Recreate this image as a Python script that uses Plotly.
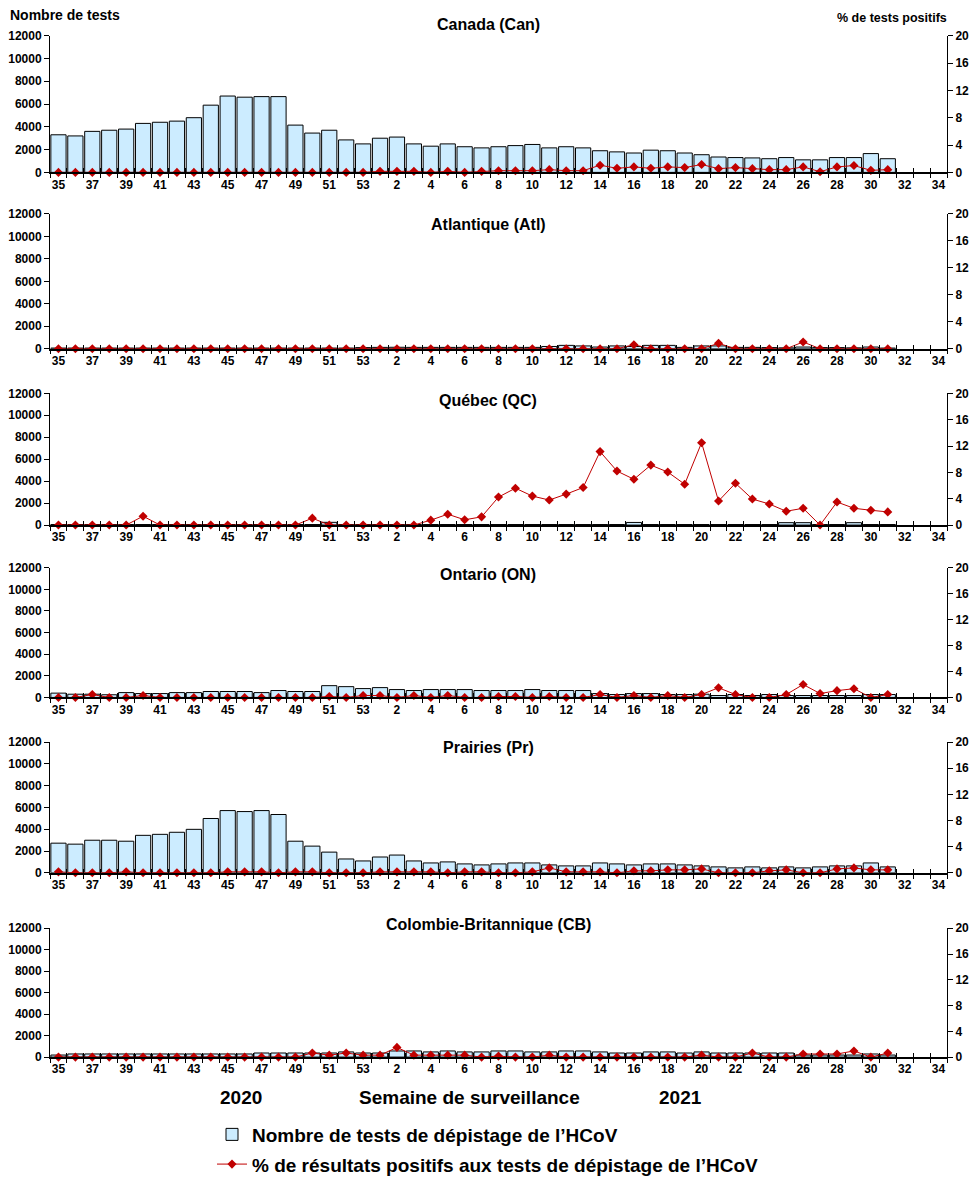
import plotly.graph_objects as go

# ---------------- data ----------------
weeks = [str(w) for w in range(35, 54)] + [str(w) for w in range(1, 35)]
week_labels = [w if i % 2 == 0 else "" for i, w in enumerate(weeks)]

can_tests = [3300, 3200, 3600, 3700, 3800, 4300, 4400, 4500, 4800, 5900, 6700, 6600, 6650, 6650, 4150, 3450, 3700, 2850, 2500,
             3000, 3100, 2500, 2300, 2500, 2250, 2150, 2250, 2350, 2450, 2150, 2250, 2150, 1900, 1800, 1700, 1950, 1900, 1700,
             1550, 1350, 1300, 1270, 1200, 1300, 1100, 1100, 1300, 1300, 1650, 1200]
can_pct = [0] * 19 + [0.15, 0.15, 0.15, 0, 0.15, 0, 0.15, 0.25, 0.25, 0.25, 0.4, 0.25, 0.25, 1.05, 0.6, 0.8, 0.6, 0.8, 0.7,
                      1.15, 0.55, 0.7, 0.55, 0.4, 0.4, 0.8, 0.1, 0.8, 1.0, 0.3, 0.4]

atl_tests = [60] * 18 + [100] + [120, 130, 120, 120, 120, 120, 120, 120, 120, 120, 200, 300, 250, 150, 250, 200, 300, 300, 120,
                                 250, 250, 120, 120, 100, 80, 150, 100, 100, 80, 150, 60]
atl_pct = [0] * 19 + [0, 0, 0, 0, 0, 0, 0, 0, 0, 0, 0, 0, 0, 0, 0, 0.6, 0, 0, 0, 0, 0.8, 0, 0, 0, 0, 1.0, 0, 0, 0, 0, 0]

qc_tests = [50] * 16 + [250, 50, 50] + [50] * 15 + [240] + [50] * 8 + [220, 220, 50, 50, 220, 50, 50]
qc_pct = [0, 0, 0, 0, 0, 1.35, 0, 0, 0, 0, 0, 0, 0, 0, 0, 1.05, 0, 0, 0,
          0, 0, 0, 0.75, 1.65, 0.8, 1.25, 4.25, 5.6, 4.4, 3.8, 4.7, 5.7, 11.15, 8.2, 6.95, 9.1, 8.05, 6.2, 12.5, 3.65,
          6.35, 3.95, 3.2, 2.1, 2.55, 0, 3.5, 2.55, 2.25, 2.0]

on_tests = [400, 300, 300, 250, 450, 360, 360, 450, 450, 550, 550, 550, 450, 640, 550, 550, 1090, 1000, 820,
            910, 730, 640, 730, 730, 730, 640, 640, 640, 730, 640, 640, 640, 360, 270, 360, 360, 270, 270, 300, 180,
            270, 180, 270, 180, 180, 180, 180, 180, 270, 270]
on_pct = [0, 0, 0.45, 0, 0, 0.3, 0, 0, 0, 0, 0, 0, 0, 0, 0, 0, 0.15, 0, 0.3,
          0.3, 0, 0.3, 0, 0.3, 0, 0, 0.15, 0.15, 0, 0.15, 0, 0, 0.45, 0, 0.3, 0, 0.3, 0, 0.45, 1.5,
          0.45, 0, 0, 0.45, 2.0, 0.6, 1.05, 1.35, 0, 0.45]

pr_tests = [2720, 2630, 2990, 2990, 2900, 3440, 3530, 3720, 3990, 4985, 5710, 5620, 5710, 5350, 2900, 2450, 1900, 1270, 1090,
            1450, 1630, 1090, 906, 1000, 816, 725, 816, 906, 906, 725, 635, 635, 906, 816, 725, 816, 816, 725, 635, 544,
            453, 544, 453, 544, 453, 544, 635, 635, 906, 544]
pr_pct = [0.15, 0, 0, 0, 0.15, 0, 0, 0, 0, 0, 0.15, 0.15, 0.15, 0, 0.15, 0.15, 0, 0, 0,
          0.15, 0.15, 0.15, 0.15, 0, 0.15, 0.15, 0, 0, 0.15, 0.75, 0.15, 0.15, 0.15, 0, 0.3, 0.3, 0.45, 0.45, 0.6, 0,
          0, 0, 0.3, 0.45, 0, 0, 0.6, 0.75, 0.45, 0.45]

bc_tests = [190] + [290] * 11 + [380] * 5 + [480, 380] + \
           [380, 570, 570, 480, 570, 480, 480, 570, 570, 480, 480, 570, 570, 480, 380, 380, 480, 480, 380, 480,
            380, 380, 380, 380, 380, 190, 190, 190, 190, 290, 190]
bc_pct = [0] * 15 + [0.63, 0.3, 0.63, 0.3] + \
         [0.3, 1.5, 0.3, 0.3, 0.3, 0.3, 0, 0.15, 0, 0, 0.3, 0, 0, 0, 0, 0, 0, 0, 0, 0.3,
          0, 0, 0.63, 0, 0, 0.48, 0.48, 0.48, 0.95, 0, 0.63]

panels = [
    ("Canada (Can)", can_tests, can_pct),
    ("Atlantique (Atl)", atl_tests, atl_pct),
    ("Québec (QC)", qc_tests, qc_pct),
    ("Ontario (ON)", on_tests, on_pct),
    ("Prairies (Pr)", pr_tests, pr_pct),
    ("Colombie-Britannique (CB)", bc_tests, bc_pct),
]

left_ticks = [0, 2000, 4000, 6000, 8000, 10000, 12000]
right_ticks = [0, 4, 8, 12, 16, 20]

bar_name = "Nombre de tests de dépistage de l’HCoV"
line_name = "% de résultats positifs aux tests de dépistage de l’HCoV"

# ---------------- layout helpers ----------------
W, H = 976, 1184
FONT = "Liberation Sans"
X0, X1 = 50 / W, 947 / W
# (top px, bottom px, title y px)
geom = [(36, 174, 25), (216, 352, 227), (397, 530, 404), (573, 704, 580), (749, 881, 755), (937, 1067, 933)]


def py(p):
    return 1 - p / H


def sfx(n):
    return "" if n == 1 else str(n)


tickfont = dict(family=FONT, size=12, color="black", weight="bold")

fig = go.Figure()
layout = {}
annotations = []

for i, (title, tests, pct) in enumerate(panels, start=1):
    top, bot, ty = geom[i - 1]
    xm, xo = i, i + 6
    yl, yr = 2 * i - 1, 2 * i
    yl_in, yr_in = 12 + 2 * i - 1, 12 + 2 * i
    n = len(tests)
    fig.add_trace(go.Bar(
        x=weeks[:n], y=tests, xaxis="x" + sfx(xm), yaxis="y" + sfx(yl),
        name=bar_name, legendgroup="bar", showlegend=(i == 1),
        marker=dict(color="#CCECFF", line=dict(color="black", width=1)),
    ))
    fig.add_trace(go.Scatter(
        x=weeks[:n], y=pct, xaxis="x" + sfx(xo), yaxis="y" + sfx(yr),
        name=line_name, legendgroup="line", showlegend=(i == 1),
        mode="lines+markers", cliponaxis=False,
        line=dict(color="#C00000", width=1),
        marker=dict(symbol="diamond", size=7, color="#C00000"),
    ))
    dom_y = [py(bot), py(top)]
    common_x = dict(domain=[X0, X1], type="category", categoryorder="array", categoryarray=weeks,
                    range=[-0.5, len(weeks) - 0.5], tickmode="array", tickvals=weeks,
                    tickson="boundaries", showgrid=False, zeroline=False, fixedrange=True,
                    automargin=False, tickangle=0)
    layout["xaxis" + sfx(xm)] = dict(common_x, anchor="y" + sfx(yl), ticktext=week_labels, ticks="outside",
                                     ticklen=4, tickcolor="black", showline=True, linecolor="black",
                                     linewidth=1.5, tickfont=tickfont)
    layout["xaxis" + sfx(xo)] = dict(common_x, anchor="y" + sfx(yr), overlaying="x" + sfx(xm),
                                     ticktext=["" for _ in weeks], showticklabels=False, ticks="inside",
                                     ticklen=4, tickcolor="black", showline=False)
    common_l = dict(domain=dom_y, range=[0, 12000], tickmode="array", tickvals=left_ticks,
                    showgrid=False, zeroline=False, fixedrange=True, automargin=False, tickcolor="black")
    common_r = dict(domain=dom_y, range=[0, 20], tickmode="array", tickvals=right_ticks,
                    showgrid=False, zeroline=False, fixedrange=True, automargin=False, tickcolor="black")
    layout["yaxis" + sfx(yl)] = dict(common_l, anchor="x" + sfx(xm), ticktext=[str(v) for v in left_ticks],
                                     ticks="outside", ticklen=5, showline=True, linecolor="black",
                                     linewidth=1, tickfont=tickfont)
    layout["yaxis" + sfx(yr)] = dict(common_r, anchor="x" + sfx(xo), overlaying="y" + sfx(yl), side="right",
                                     ticktext=[str(v) for v in right_ticks], ticks="outside", ticklen=5,
                                     showline=True, linecolor="black", linewidth=1, tickfont=tickfont)
    # inner halves of the crossing tick marks
    layout["yaxis" + sfx(yl_in)] = dict(common_l, anchor="x" + sfx(xm), overlaying="y" + sfx(yl),
                                        side="left", ticks="inside", ticklen=4, showticklabels=False,
                                        showline=False)
    layout["yaxis" + sfx(yr_in)] = dict(common_r, anchor="x" + sfx(xo), overlaying="y" + sfx(yl),
                                        side="right", ticks="inside", ticklen=4, showticklabels=False,
                                        showline=False)
    annotations.append(dict(text=title, x=488 / W, y=py(ty), xref="paper", yref="paper",
                            showarrow=False, xanchor="center", yanchor="middle",
                            font=dict(family=FONT, size=16, color="black", weight="bold")))

annotations += [
    dict(text="Nombre de tests", x=8 / W, y=py(15), xref="paper", yref="paper", showarrow=False,
         xanchor="left", yanchor="middle", font=dict(family=FONT, size=14, color="black", weight="bold")),
    dict(text="% de tests positifs", x=949 / W, y=py(18), xref="paper", yref="paper", showarrow=False,
         xanchor="right", yanchor="middle", font=dict(family=FONT, size=12.5, color="black", weight="bold")),
    dict(text="2020", x=241 / W, y=py(1108), xref="paper", yref="paper", showarrow=False,
         xanchor="center", yanchor="middle", font=dict(family=FONT, size=19, color="black", weight="bold")),
    dict(text="Semaine de surveillance", x=469 / W, y=py(1108), xref="paper", yref="paper", showarrow=False,
         xanchor="center", yanchor="middle", font=dict(family=FONT, size=19, color="black", weight="bold")),
    dict(text="2021", x=680 / W, y=py(1108), xref="paper", yref="paper", showarrow=False,
         xanchor="center", yanchor="middle", font=dict(family=FONT, size=19, color="black", weight="bold")),
]

fig.update_layout(
    width=W, height=H,
    margin=dict(l=0, r=0, t=0, b=0),
    paper_bgcolor="white", plot_bgcolor="white",
    bargap=0.1,
    showlegend=True,
    legend=dict(x=212 / W, y=py(1126), xanchor="left", yanchor="top", orientation="v",
                bgcolor="rgba(0,0,0,0)", tracegroupgap=2, itemwidth=30,
                font=dict(family=FONT, size=19, color="black", weight="bold")),
    annotations=annotations,
    **layout,
)

fig.write_html("out.html")
